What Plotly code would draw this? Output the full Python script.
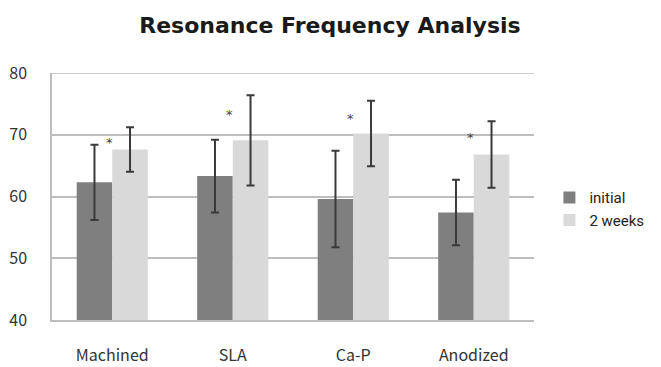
import plotly.graph_objects as go

categories = ["Machined", "SLA", "Ca-P", "Anodized"]
initial = [62.3, 63.3, 59.6, 57.4]
initial_err = [6.1, 5.9, 7.8, 5.3]
weeks2 = [67.6, 69.1, 70.2, 66.8]
weeks2_err = [3.6, 7.3, 5.3, 5.4]
star_y = [68.7, 73.2, 72.6, 69.5]
y_ticks = [40, 50, 60, 70, 80]

fig = go.Figure()
fig.add_trace(go.Bar(
    x=categories, y=initial, name="initial",
    marker=dict(color="#7f7f7f", line=dict(width=0)),
    error_y=dict(type="data", array=initial_err, color="#3a3a3a", thickness=2, width=4),
))
fig.add_trace(go.Bar(
    x=categories, y=weeks2, name="2 weeks",
    marker=dict(color="#d9d9d9", line=dict(width=0)),
    error_y=dict(type="data", array=weeks2_err, color="#3a3a3a", thickness=2, width=4),
))
for c, y in zip(categories, star_y):
    fig.add_annotation(x=c, y=y, text="*", showarrow=False, xshift=-3,
                       font=dict(size=13, color="#444444", family="DejaVu Sans"))
fig.add_hline(y=y_ticks[-1], line=dict(color="#bdbdbd", width=1.5), layer="below")

fig.update_layout(
    width=653, height=359,
    paper_bgcolor="white", plot_bgcolor="white",
    margin=dict(l=44, r=117, t=65, b=47),
    title=dict(text="<b>Resonance Frequency Analysis</b>", x=0.493, xanchor="center",
               y=0.953, yanchor="middle",
               font=dict(size=22, color="#1a1a1a", family="DejaVu Sans")),
    barmode="group", bargap=0.41, bargroupgap=0,
    showlegend=True,
    legend=dict(x=1.032, y=0.45, xanchor="left", yanchor="middle",
                font=dict(size=15, color="#222222", family="Roboto"),
                itemwidth=30, tracegroupgap=0),
    xaxis=dict(showline=True, linecolor="#bdbdbd", linewidth=1.5, ticks="",
               ticklabelstandoff=20, automargin=False,
               tickfont=dict(size=16, color="#333333", family="Noto Sans CJK KR")),
    yaxis=dict(range=[40, 80], tickvals=y_ticks, showgrid=True, gridcolor="#bdbdbd",
               gridwidth=1.5, showline=True, linecolor="#bdbdbd", linewidth=1.5, ticks="",
               zeroline=False, ticklabelstandoff=20, automargin=False,
               tickfont=dict(size=16, color="#333333", family="Noto Sans CJK KR")),
)
fig.write_html("out.html")
